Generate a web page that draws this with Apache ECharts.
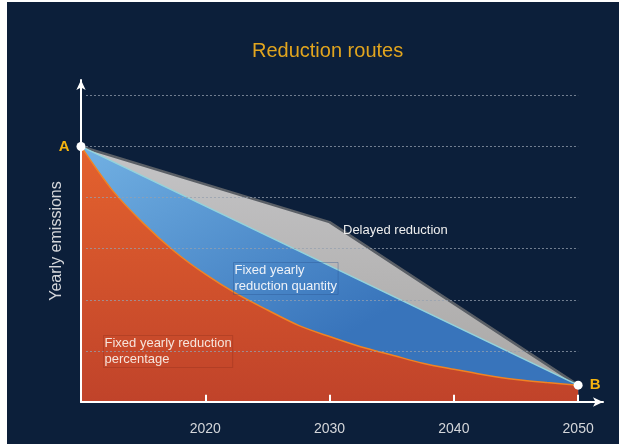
<!DOCTYPE html>
<html>
<head>
<meta charset="utf-8">
<script src="https://cdn.jsdelivr.net/npm/echarts@6/dist/echarts.min.js"></script>
<style>
  html, body { margin: 0; padding: 0; background: #fff; }
  #chart { position: absolute; left: 7px; top: 2px; width: 612px; height: 442px; }
</style>
</head>
<body>
<div id="chart"></div>
<script>
  // fixed yearly reduction percentage (curve)
  var pctYears = [2010, 2012.5, 2015, 2017.5, 2020, 2022.5, 2025, 2027.5, 2030, 2032.5, 2035, 2037.5, 2040, 2042.5, 2045, 2047.5, 2050]
  var pctValues = [5.0, 4.15, 3.5, 2.95, 2.5, 2.12, 1.8, 1.5, 1.28, 1.08, 0.92, 0.76, 0.64, 0.53, 0.44, 0.38, 0.33]
  // fixed yearly reduction quantity (straight)
  var qtyYears = [2010, 2050]
  var qtyValues = [5.0, 0.33]
  // delayed reduction
  var delayedYears = [2010, 2030, 2050]
  var delayedValues = [5.0, 3.52, 0.33]
  // start / end points
  var pointNames = ['A', 'B']
  var pointYears = [2010, 2050]
  var pointValues = [5.0, 0.33]
  var xTickYears = [2020, 2030, 2040, 2050]
  var gridValues = [1, 2, 3, 4, 5, 6]

  function pairs (xs, ys) {
    return xs.map(function (x, i) { return [x, ys[i]] })
  }

  var font = '"Liberation Sans", Arial, sans-serif'
  var gridLineStyle = { color: 'rgba(150, 160, 175, 0.75)', type: [2, 2], width: 1 }
  var tickLineStyle = { color: '#ffffff', type: 'solid', width: 2 }

  // dotted gridlines ending at 2050 + short ticks pointing up from the x axis
  var markLines = gridValues.map(function (v) {
    return [{ coord: [2010.4, v], lineStyle: gridLineStyle }, { coord: [2050, v] }]
  }).concat(xTickYears.map(function (y) {
    return [{ coord: [y, 0], lineStyle: tickLineStyle }, { coord: [y, 0.14] }]
  }))

  var chart = echarts.init(document.getElementById('chart'))
  var option = {
    backgroundColor: '#0c1f3a',
    animation: false,
    title: {
      text: 'Reduction routes',
      left: 240,
      top: 34,
      textStyle: { color: '#e2a51e', fontSize: 20, fontWeight: 'normal', fontFamily: font }
    },
    grid: { left: 74, right: 16, top: 78, bottom: 42 },
    xAxis: {
      type: 'value',
      min: 2010,
      max: 2052,
      interval: 10,
      z: 10,
      splitLine: { show: false },
      axisLine: { lineStyle: { color: '#ffffff', width: 2 }, symbol: ['none', 'arrow'], symbolSize: [7, 10] },
      axisTick: { show: false },
      axisLabel: {
        customValues: xTickYears,
        margin: 20,
        color: '#d4d6da',
        fontSize: 14,
        fontFamily: font,
        formatter: function (v) { return String(v) }
      }
    },
    yAxis: {
      type: 'value',
      min: 0,
      max: 6.3,
      z: 10,
      name: 'Yearly emissions',
      nameLocation: 'middle',
      nameGap: 16,
      nameTextStyle: { color: '#d4d6da', fontSize: 16, fontFamily: font },
      splitLine: { show: false },
      axisLine: { show: true, lineStyle: { color: '#ffffff', width: 2 }, symbol: ['none', 'arrow'], symbolSize: [7, 10] },
      axisTick: { show: false },
      axisLabel: { show: false }
    },
    series: [
      {
        name: 'Delayed reduction',
        type: 'line',
        data: pairs(delayedYears, delayedValues),
        symbol: 'none',
        lineStyle: { color: '#5a5f66', width: 2.5 },
        areaStyle: {
          opacity: 1,
          color: new echarts.graphic.LinearGradient(0, 0, 0, 1, [
            { offset: 0, color: '#c4c4c6' },
            { offset: 1, color: '#a8a6a4' }
          ])
        },
        z: 2
      },
      {
        name: 'Fixed yearly reduction quantity',
        type: 'line',
        data: pairs(qtyYears, qtyValues),
        symbol: 'none',
        lineStyle: { color: '#93d3dc', width: 1.5 },
        areaStyle: {
          opacity: 1,
          color: new echarts.graphic.LinearGradient(0, 0, 0.3, 1, [
            { offset: 0, color: '#72b1e3' },
            { offset: 1, color: '#3874bb' }
          ])
        },
        z: 3
      },
      {
        name: 'Fixed yearly reduction percentage',
        type: 'line',
        data: pairs(pctYears, pctValues),
        smooth: 0.3,
        symbol: 'none',
        lineStyle: { color: '#f18322', width: 1.5 },
        areaStyle: {
          opacity: 1,
          color: new echarts.graphic.LinearGradient(0, 0, 0, 1, [
            { offset: 0, color: '#e4622e' },
            { offset: 1, color: '#c0432a' }
          ])
        },
        z: 4,
        markLine: {
          silent: true,
          symbol: 'none',
          label: { show: false },
          lineStyle: gridLineStyle,
          data: markLines
        }
      },
      {
        name: 'points',
        type: 'scatter',
        data: pairs(pointYears, pointValues).map(function (p, i) {
          return {
            value: p,
            label: { position: i === 0 ? 'left' : 'right', formatter: pointNames[i] }
          }
        }),
        symbol: 'circle',
        symbolSize: 9,
        itemStyle: { color: '#ffffff', opacity: 1 },
        label: { show: true, distance: 7, color: '#f5b40f', fontSize: 15, fontWeight: 'bold', fontFamily: font },
        z: 12
      }
    ],
    graphic: [
      {
        type: 'text', left: 336, top: 222, z: 10,
        style: { text: 'Delayed reduction', fill: '#eeeeee', font: '13px ' + font }
      },
      {
        type: 'text', left: 226, top: 260, z: 10,
        style: {
          text: 'Fixed yearly\nreduction quantity', fill: '#eef2f8', font: '13px ' + font, lineHeight: 16,
          borderColor: 'rgba(40, 80, 140, 0.35)', borderWidth: 1, padding: [0, 1]
        }
      },
      {
        type: 'text', left: 96, top: 333, z: 10,
        style: {
          text: 'Fixed yearly reduction\npercentage', fill: '#f6e4dc', font: '13px ' + font, lineHeight: 16,
          borderColor: 'rgba(150, 50, 30, 0.4)', borderWidth: 1, padding: [0, 1]
        }
      }
    ]
  }
  chart.setOption(option)
  window.addEventListener('resize', function () {
    chart.resize()
  })
</script>
</body>
</html>
